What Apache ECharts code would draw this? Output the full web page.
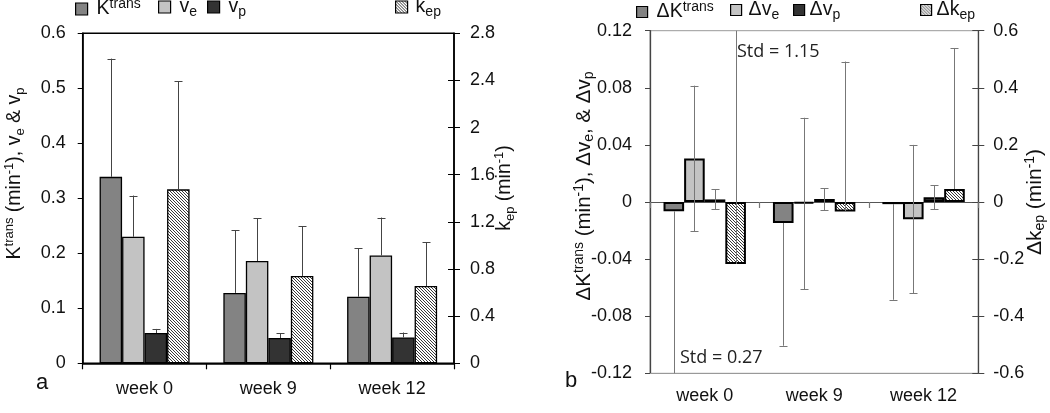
<!DOCTYPE html>
<html>
<head>
<meta charset="utf-8">
<script src="https://cdn.jsdelivr.net/npm/echarts@6/dist/echarts.min.js"></script>
<style>html,body{margin:0;padding:0;background:#fff}#c{width:1050px;height:413px}</style>
</head>
<body>
<div id="c"></div>
<script>
// ---------- data ----------
const weeks = ['week 0', 'week 9', 'week 12'];

// panel a (absolute values, one-sided SD)
const ktrans    = [0.339, 0.128, 0.121];
const ktransErr = [0.215, 0.114, 0.088];
const ve        = [0.230, 0.186, 0.196];
const veErr     = [0.075, 0.078, 0.069];
const vp        = [0.055, 0.046, 0.047];
const vpErr     = [0.0075, 0.0085, 0.009];
const kep       = [1.476, 0.741, 0.656];
const kepErr    = [0.919, 0.424, 0.371];

// panel b (changes)
const dKtrans      = [-0.0065, -0.0147, -0.0015];
const dKtransMinus = [0.27, 0.086, 0.067];
const dKtransPlus  = [0, 0, 0];
const dve          = [0.0305, -0.001, -0.012];
const dveErr       = [0.051, 0.060, 0.052];
const dvp          = [0.0018, 0.0021, 0.0033];
const dvpErr       = [0.007, 0.0077, 0.0084];
const dkep         = [-0.217, -0.033, 0.0455];
const dkepPlus     = [1.15, 0.525, 0.494];
const dkepMinus    = [0, 0, 0];

// axis ranges [min, max, interval]
const axA1 = [0, 0.6, 0.1];
const axA2 = [0, 2.8, 0.4];
const axB1 = [-0.12, 0.12, 0.04];
const axB2 = [-0.6, 0.6, 0.2];

const stdLabels = ['Std = 1.15', 'Std = 0.27'];

// ---------- styling ----------
const FONT = '"Liberation Sans", Arial, sans-serif';
const C_K = '#838383', C_VE = '#c3c3c3', C_VP = '#333333';

function hatchCanvas() {
  const n = 3;
  const c = document.createElement('canvas');
  c.width = n; c.height = n;
  const g = c.getContext('2d');
  g.fillStyle = '#ffffff'; g.fillRect(0, 0, n, n);
  g.fillStyle = '#3a3a3a';
  for (let i = 0; i < n; i++) { g.fillRect(i, i, 1, 1); }
  return c;
}
const HATCH = { image: hatchCanvas(), repeat: 'repeat' };

function rich(main, sm, pad) {
  return {
    m0: { fontFamily: FONT, fontSize: main, lineHeight: 24, color: '#111', padding: [0, 0, 0, pad || 0] },
    m: { fontFamily: FONT, fontSize: main, lineHeight: 24, color: '#111' },
    sup: { fontFamily: FONT, fontSize: sm, lineHeight: sm + 1, verticalAlign: 'top', color: '#111' },
    sub: { fontFamily: FONT, fontSize: sm, lineHeight: sm + 1, verticalAlign: 'bottom', color: '#111' }
  };
}

const legendText = {
  'Ktrans': '{m0|K}{sup|trans}',
  've': '{m0|v}{sub|e}',
  'vp': '{m0|v}{sub|p}',
  'kep': '{m0|k}{sub|ep}',
  'dKtrans': '{m0|ΔK}{sup|trans}',
  'dve': '{m0|Δv}{sub|e}',
  'dvp': '{m0|Δv}{sub|p}',
  'dkep': '{m0|Δk}{sub|ep}'
};

function legend(name, left, top, size, pad) {
  return {
    data: [name], left: left, top: top, padding: 0, selectedMode: false,
    icon: 'rect', itemWidth: size, itemHeight: size,
    itemStyle: { borderColor: '#000', borderWidth: 1.2 },
    formatter: n => legendText[n],
    textStyle: { rich: rich(19.5, 14, pad) }
  };
}

function errSeries(xi, yi, k, barW, vals, minus, plus, color, capW) {
  return {
    type: 'custom', xAxisIndex: xi, yAxisIndex: yi, clip: true, z: 5, silent: true,
    encode: { x: 0, y: 1 },
    data: vals.map((v, i) => [i, v, minus[i], plus[i]]),
    renderItem(params, api) {
      const c = api.value(0), v = api.value(1), mn = api.value(2), pl = api.value(3);
      let x = api.coord([c, v])[0] + (k - 1.5) * barW;
      x = Math.round(x) + 0.5;
      const yLo = api.coord([c, v - mn])[1], yHi = api.coord([c, v + pl])[1];
      const st = { stroke: color, lineWidth: 1 };
      const ch = [{ type: 'line', shape: { x1: x, y1: yLo, x2: x, y2: yHi }, style: st }];
      if (mn > 0) ch.push({ type: 'line', shape: { x1: x - capW / 2, y1: Math.round(yLo) + 0.5, x2: x + capW / 2, y2: Math.round(yLo) + 0.5 }, style: st });
      if (pl > 0) ch.push({ type: 'line', shape: { x1: x - capW / 2, y1: Math.round(yHi) + 0.5, x2: x + capW / 2, y2: Math.round(yHi) + 0.5 }, style: st });
      return { type: 'group', children: ch };
    }
  };
}

const labelStyle = { fontFamily: FONT, fontSize: 18, color: '#111' };
const BW_A = 22.5, BW_B = 20.6;

function bar(name, xi, yi, data, color, bw, border) {
  return {
    name: name, type: 'bar', xAxisIndex: xi, yAxisIndex: yi, data: data,
    barWidth: bw, barGap: '0%', silent: true,
    itemStyle: { color: color, borderColor: '#000', borderWidth: border }
  };
}

function vtitle(text, x, y, main, sm) {
  return {
    type: 'text', x: x, y: y, rotation: Math.PI / 2, silent: true,
    style: { text: text, rich: rich(main, sm, 0), align: 'center', verticalAlign: 'middle',
             textAlign: 'center', textVerticalAlign: 'middle', fill: '#111' }
  };
}

const option = {
  animation: false,
  backgroundColor: '#fff',
  grid: [
    { left: 82.7, top: 33.3, width: 371.3, height: 330, show: true, borderColor: '#000', borderWidth: 1.5 },
    { left: 650, top: 30.7, width: 328.3, height: 342.6, show: true, borderColor: '#999', borderWidth: 1 }
  ],
  legend: [
    legend('Ktrans', 75, -3, 12, 4),
    legend('ve', 158, -3, 12, 4),
    legend('vp', 207, -3, 12, 4),
    legend('kep', 395, -3, 12, 3),
    legend('dKtrans', 636, 0, 11, 4),
    legend('dve', 730, 0, 11, 2),
    legend('dvp', 793, 0, 11, 0),
    legend('dkep', 920, 0, 11, 0)
  ],
  xAxis: [
    { gridIndex: 0, type: 'category', data: weeks,
      axisLine: { lineStyle: { color: '#000', width: 1.5 } },
      axisTick: { show: true, length: 6, lineStyle: { color: '#000', width: 1.2 } },
      axisLabel: Object.assign({ margin: 17 }, labelStyle) },
    { gridIndex: 1, type: 'category', data: weeks,
      axisLine: { onZero: true, lineStyle: { color: '#555', width: 1.2 } },
      axisTick: { show: true, length: 6, lineStyle: { color: '#777', width: 1.2 } },
      axisLabel: { show: false } },
    { gridIndex: 1, type: 'category', data: weeks, position: 'bottom',
      axisLine: { onZero: false, lineStyle: { color: '#999', width: 1 } },
      axisTick: { show: false },
      axisLabel: Object.assign({ margin: 14 }, labelStyle) }
  ],
  yAxis: [
    { gridIndex: 0, type: 'value', position: 'left', min: axA1[0], max: axA1[1], interval: axA1[2],
      splitLine: { show: false },
      axisLine: { show: true, lineStyle: { color: '#000', width: 1.5 } },
      axisTick: { show: true, length: 5, lineStyle: { color: '#000' } },
      axisLabel: Object.assign({ margin: 17 }, labelStyle) },
    { gridIndex: 0, type: 'value', position: 'right', min: axA2[0], max: axA2[1], interval: axA2[2],
      splitLine: { show: false },
      axisLine: { show: true, lineStyle: { color: '#000', width: 1.5 } },
      axisTick: { show: true, length: 6, lineStyle: { color: '#000' } },
      axisLabel: Object.assign({ margin: 16 }, labelStyle) },
    { gridIndex: 0, type: 'value', position: 'right', min: axA2[0], max: axA2[1], interval: axA2[2],
      splitLine: { show: false }, axisLine: { show: false },
      axisTick: { show: true, inside: true, length: 6, lineStyle: { color: '#000' } },
      axisLabel: { show: false } },
    { gridIndex: 1, type: 'value', position: 'left', min: axB1[0], max: axB1[1], interval: axB1[2],
      splitLine: { show: false },
      axisLine: { show: true, onZero: false, lineStyle: { color: '#444', width: 1.3 } },
      axisTick: { show: true, length: 5, lineStyle: { color: '#444' } },
      axisLabel: Object.assign({ margin: 18 }, labelStyle) },
    { gridIndex: 1, type: 'value', position: 'right', min: axB2[0], max: axB2[1], interval: axB2[2],
      splitLine: { show: false },
      axisLine: { show: true, onZero: false, lineStyle: { color: '#444', width: 1.3 } },
      axisTick: { show: true, length: 6, lineStyle: { color: '#444' } },
      axisLabel: Object.assign({ margin: 15 }, labelStyle) },
    { gridIndex: 1, type: 'value', position: 'right', min: axB2[0], max: axB2[1], interval: axB2[2],
      splitLine: { show: false }, axisLine: { show: false, onZero: false },
      axisTick: { show: true, inside: true, length: 6, lineStyle: { color: '#444' } },
      axisLabel: { show: false } }
  ],
  series: [
    bar('Ktrans', 0, 0, ktrans, C_K, BW_A, 1.3),
    bar('ve', 0, 0, ve, C_VE, BW_A, 1.3),
    bar('vp', 0, 0, vp, C_VP, BW_A, 1.3),
    bar('kep', 0, 1, kep, HATCH, BW_A, 1.3),
    errSeries(0, 0, 0, BW_A, ktrans, [0, 0, 0], ktransErr, '#444', 8),
    errSeries(0, 0, 1, BW_A, ve, [0, 0, 0], veErr, '#444', 8),
    errSeries(0, 0, 2, BW_A, vp, [0, 0, 0], vpErr, '#444', 8),
    errSeries(0, 1, 3, BW_A, kep, [0, 0, 0], kepErr, '#444', 8),

    bar('dKtrans', 1, 3, dKtrans, C_K, BW_B, 2),
    bar('dve', 1, 3, dve, C_VE, BW_B, 2),
    bar('dvp', 1, 3, dvp, C_VP, BW_B, 2),
    bar('dkep', 1, 4, dkep, HATCH, BW_B, 2),
    errSeries(1, 3, 0, BW_B, dKtrans, dKtransMinus, dKtransPlus, '#777', 8),
    errSeries(1, 3, 1, BW_B, dve, dveErr, dveErr, '#777', 8),
    errSeries(1, 3, 2, BW_B, dvp, dvpErr, dvpErr, '#777', 8),
    errSeries(1, 4, 3, BW_B, dkep, dkepMinus, dkepPlus, '#777', 8)
  ],
  graphic: [
    vtitle('{m|K}{sup|trans}{m| (min}{sup|-1}{m|), v}{sub|e}{m| & v}{sub|p}', 15, 173.5, 19.5, 13),
    vtitle('{m|k}{sub|ep}{m| (min}{sup|-1}{m|)}', 505, 188, 19.5, 13),
    vtitle('{m|ΔK}{sup|trans}{m| (min}{sup|-1}{m|), Δv}{sub|e}{m|, & Δv}{sub|p}', 584, 186, 20.5, 14),
    vtitle('{m|Δk}{sub|ep}{m| (min}{sup|-1}{m|)}', 1035, 202, 21, 14),
    { type: 'text', x: 36, y: 382.5, silent: true,
      style: { text: 'a', font: '22px ' + FONT, fill: '#111', verticalAlign: 'middle', textVerticalAlign: 'middle' } },
    { type: 'text', x: 565, y: 380.5, silent: true,
      style: { text: 'b', font: '22px ' + FONT, fill: '#111', verticalAlign: 'middle', textVerticalAlign: 'middle' } },
    { type: 'text', x: 737, y: 52, silent: true,
      style: { text: stdLabels[0], font: '18px "Open Sans"', fill: '#222', verticalAlign: 'middle', textVerticalAlign: 'middle' } },
    { type: 'text', x: 680, y: 358, silent: true,
      style: { text: stdLabels[1], font: '18px "Open Sans"', fill: '#222', verticalAlign: 'middle', textVerticalAlign: 'middle' } }
  ]
};

const chart = echarts.init(document.getElementById('c'), null, { renderer: 'canvas' });
chart.setOption(option);
</script>
</body>
</html>
